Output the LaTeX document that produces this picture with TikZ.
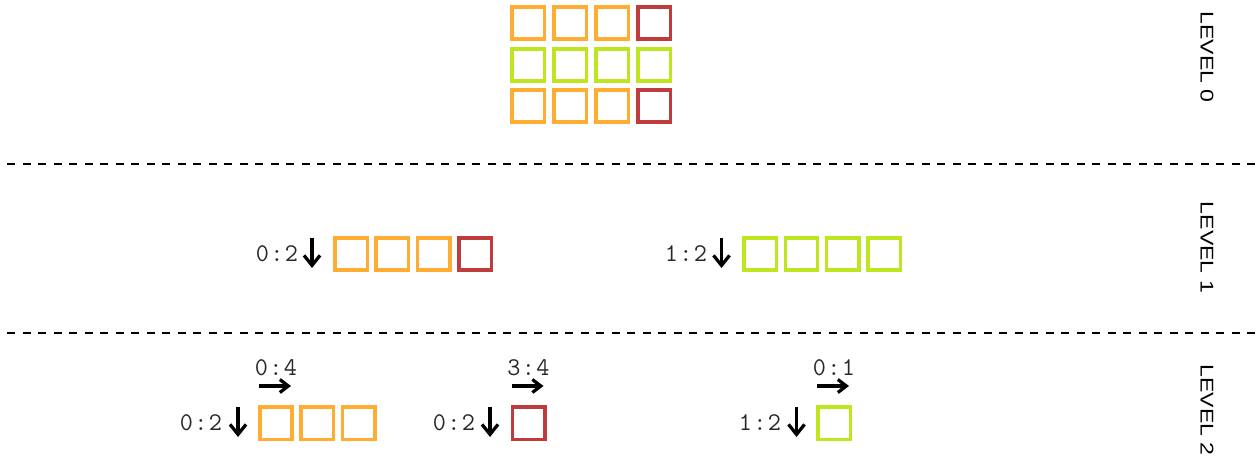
\documentclass[tikz,border=0pt]{standalone}
\usepackage{fontspec}
\newfontfamily\rangefont{Latin Modern Mono}[LetterSpace=5.5]
\newfontfamily\levelfont{Liberation Sans}
\usetikzlibrary{arrows.meta,positioning,calc}
\definecolor{cellOrange}{RGB}{255,172,51}
\definecolor{cellGreen}{RGB}{190,230,30}
\definecolor{cellRed}{RGB}{190,60,60}
\definecolor{textGray}{RGB}{40,40,40}
\tikzset{
  cell/.style={
    rectangle, draw, line width=0.07cm, minimum size=0.65cm,
    inner sep=0pt, outer sep=0pt
  },
  orangeCell/.style={cell, draw=cellOrange},
  greenCell/.style={cell, draw=cellGreen},
  redCell/.style={cell, draw=cellRed},
  rangeLabel/.style={font=\rangefont\fontsize{14.5}{16}\selectfont, text=textGray, inner sep=0pt},
  levelLabel/.style={font=\levelfont\fontsize{10.5}{12}\selectfont, rotate=-90, inner sep=0pt},
  levelLine/.style={line width=0.04cm, dash pattern=on 0.16cm off 0.15cm, dash phase=0.16cm},
  rowArrow/.style={-{Straight Barb[length=0.2cm,width=0.32cm]}, line width=0.065cm},
  colArrow/.style={-{Straight Barb[length=0.17cm,width=0.26cm]}, line width=0.065cm}
}

\begin{document}
\begin{tikzpicture}[x=0.02cm, y=-0.02cm, node distance=0.83cm, on grid]
  \useasboundingbox (0,0) rectangle (1258,463);

  % level separators
  \coordinate (sepA west) at (0,164);
  \coordinate (sepA east) at (1258,164);
  \coordinate (sepB west) at (0,333);
  \coordinate (sepB east) at (1258,333);
  \draw[levelLine] (sepA west) -- (sepA east);
  \draw[levelLine] (sepB west) -- (sepB east);

  % level 0: full grid
  \foreach \y/\first/\last [count=\r] in {23/orangeCell/redCell, 65/greenCell/greenCell, 106/orangeCell/redCell}{
    \foreach \x [count=\c] in {528,570,612}
      \node[\first] (g\r\c) at (\x,\y) {};
    \node[\last] (g\r4) at (654,\y) {};
  }

  % level 1: rows
  \node[orangeCell] (a1) at (351,254) {};
  \node[orangeCell, right=of a1] (a2) {};
  \node[orangeCell, right=of a2] (a3) {};
  \node[redCell, right=of a3] (a4) {};
  \node[rangeLabel, left=1.48cm of a1] (a rows) {0:2};
  \coordinate[left=0.78cm of a1] (a down);
  \draw[rowArrow] ([yshift=0.32cm]a down) -- ([yshift=-0.28cm]a down);

  \node[greenCell] (b1) at (760,254) {};
  \node[greenCell, right=of b1] (b2) {};
  \node[greenCell, right=of b2] (b3) {};
  \node[greenCell, right=of b3] (b4) {};
  \node[rangeLabel, left=1.48cm of b1] (b rows) {1:2};
  \coordinate[left=0.77cm of b1] (b down);
  \draw[rowArrow] ([yshift=0.32cm]b down) -- ([yshift=-0.28cm]b down);

  % level 2: rows and columns
  \node[orangeCell] (c1) at (276,423) {};
  \node[orangeCell, right=of c1] (c2) {};
  \node[orangeCell, right=of c2] (c3) {};
  \node[rangeLabel, left=1.5cm of c1] (c rows) {0:2};
  \node[rangeLabel, above=1.1cm of c1] (c cols) {0:4};
  \coordinate[left=0.76cm of c1] (c down);
  \coordinate[above=0.74cm of c1] (c right);
  \draw[rowArrow] ([yshift=0.32cm]c down) -- ([yshift=-0.28cm]c down);
  \draw[colArrow] ([xshift=-0.34cm]c right) -- ([xshift=0.3cm]c right);

  \node[redCell] (d1) at (528.5,423) {};
  \node[rangeLabel, left=1.49cm of d1] (d rows) {0:2};
  \node[rangeLabel, above=1.1cm of d1] (d cols) {3:4};
  \coordinate[left=0.77cm of d1] (d down);
  \coordinate[above=0.74cm of d1] (d right);
  \draw[rowArrow] ([yshift=0.32cm]d down) -- ([yshift=-0.28cm]d down);
  \draw[colArrow] ([xshift=-0.34cm]d right) -- ([xshift=0.3cm]d right);

  \node[greenCell] (e1) at (834,423) {};
  \node[rangeLabel, left=1.48cm of e1] (e rows) {1:2};
  \node[rangeLabel, above=1.1cm of e1] (e cols) {0:1};
  \coordinate[left=0.75cm of e1] (e down);
  \coordinate[above=0.74cm of e1] (e right);
  \draw[rowArrow] ([yshift=0.32cm]e down) -- ([yshift=-0.28cm]e down);
  \draw[colArrow] ([xshift=-0.34cm]e right) -- ([xshift=0.3cm]e right);

  % level names
  \node[levelLabel] (lvl0) at (1207,57) {\scalebox{1.25}[1]{LEVEL 0}};
  \node[levelLabel] (lvl1) at (1207,247.5) {\scalebox{1.25}[1]{LEVEL 1}};
  \node[levelLabel] (lvl2) at (1207,410) {\scalebox{1.25}[1]{LEVEL 2}};
\end{tikzpicture}
\end{document}
